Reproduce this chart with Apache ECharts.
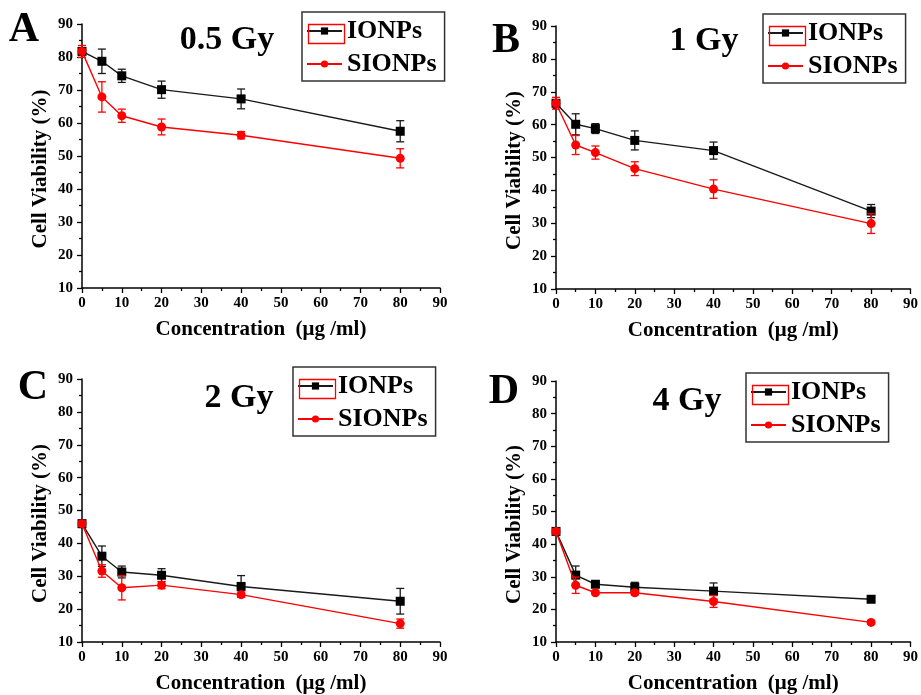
<!DOCTYPE html>
<html>
<head>
<meta charset="utf-8">
<script src="https://cdn.jsdelivr.net/npm/echarts@6/dist/echarts.min.js"></script>
<style>
  html, body { margin: 0; padding: 0; background: #fff; }
  #chart { width: 921px; height: 695px; }
</style>
</head>
<body>
<div id="chart"></div>
<script>
// x values (µg/ml), shared by all panels
const concentrations = [0, 5, 10, 20, 40, 80];
const doseLabels = ['0.5 Gy', '1 Gy', '2 Gy', '4 Gy'];
const panelLetters = ['A', 'B', 'C', 'D'];
const yTicks = [10, 20, 30, 40, 50, 60, 70, 80, 90];
const xTicks = [0, 10, 20, 30, 40, 50, 60, 70, 80, 90];

// cell viability (%), with error bar half-heights
const ionps05 = [81.7, 78.7, 74.3, 70.1, 67.3, 57.5];
const ionps05Err = [1.0, 3.7, 2.0, 2.6, 3.0, 3.2];
const sionps05 = [81.7, 67.9, 62.2, 58.8, 56.3, 49.3];
const sionps05Err = [1.8, 4.6, 2.0, 2.4, 1.1, 2.9];

const ionps1 = [66.5, 60.1, 58.8, 55.2, 52.1, 33.7];
const ionps1Err = [1.0, 3.2, 1.5, 2.9, 2.6, 2.0];
const sionps1 = [66.5, 53.8, 51.5, 46.6, 40.4, 29.9];
const sionps1Err = [1.8, 2.9, 2.0, 2.1, 2.8, 3.0];

const ionps2 = [46.0, 36.1, 31.3, 30.3, 26.9, 22.4];
const ionps2Err = [0.8, 3.1, 1.8, 2.0, 3.3, 3.9];
const sionps2 = [46.0, 31.6, 26.5, 27.3, 24.4, 15.6];
const sionps2Err = [0.8, 1.9, 3.7, 1.1, 0.8, 1.4];

const ionps4 = [43.9, 30.5, 27.7, 26.8, 25.6, 23.1];
const ionps4Err = [0.8, 2.8, 0.8, 1.5, 2.5, 0.5];
const sionps4 = [43.9, 27.4, 25.1, 25.1, 22.4, 16.0];
const sionps4Err = [0.8, 2.5, 0.5, 0.7, 1.8, 0.5];

const ionpsSets = [ionps05, ionps1, ionps2, ionps4];
const ionpsErrSets = [ionps05Err, ionps1Err, ionps2Err, ionps4Err];
const sionpsSets = [sionps05, sionps1, sionps2, sionps4];
const sionpsErrSets = [sionps05Err, sionps1Err, sionps2Err, sionps4Err];

const FONT = '"Liberation Serif", "Times New Roman", serif';
const BLACK = '#1a1a1a';
const RED = '#ff0000';

// panel layout: grid rectangles, legend box, title and letter spots
const panels = [
  { grid: { left: 82, top: 24, width: 358, height: 264 }, legend: [302, 12], dose: [227, 40], letter: [24, 30] },
  { grid: { left: 556, top: 26, width: 357, height: 263 }, legend: [763, 14], dose: [704, 41], letter: [506, 41] },
  { grid: { left: 82, top: 379, width: 358, height: 264 }, legend: [293, 367], dose: [239, 398], letter: [33, 388] },
  { grid: { left: 556, top: 381, width: 357, height: 263 }, legend: [746, 373], dose: [687, 401], letter: [504, 392] }
];

function errorBarRenderer(color) {
  return function (params, api) {
    const x = api.value(0);
    const y = api.value(1);
    const e = api.value(2);
    const top = api.coord([x, y + e]);
    const bot = api.coord([x, y - e]);
    const cap = 4;
    const style = { stroke: color, lineWidth: 1.3 };
    return {
      type: 'group',
      children: [
        { type: 'line', shape: { x1: top[0], y1: top[1], x2: bot[0], y2: bot[1] }, style },
        { type: 'line', shape: { x1: top[0] - cap, y1: top[1], x2: top[0] + cap, y2: top[1] }, style },
        { type: 'line', shape: { x1: bot[0] - cap, y1: bot[1], x2: bot[0] + cap, y2: bot[1] }, style }
      ]
    };
  };
}

const axisLabelStyle = { color: '#000', fontFamily: FONT, fontWeight: 'bold', fontSize: 15 };
const axisLineStyle = { lineStyle: { color: '#000', width: 1.5 } };

const grids = [];
const xAxes = [];
const yAxes = [];
const legends = [];
const series = [];
const graphics = [];

panels.forEach((p, i) => {
  grids.push(p.grid);
  xAxes.push({
    gridIndex: i,
    type: 'value',
    min: xTicks[0],
    max: xTicks[xTicks.length - 1],
    interval: 10,
    name: 'Concentration  (\u03bcg /ml)',
    nameLocation: 'middle',
    nameGap: 31,
    nameTextStyle: { color: '#000', fontFamily: FONT, fontWeight: 'bold', fontSize: 21 },
    axisLine: axisLineStyle,
    axisTick: { show: true, length: 5, lineStyle: { color: '#000', width: 1.3 } },
    minorTick: { show: true, splitNumber: 2, length: 3, lineStyle: { color: '#000', width: 1.3 } },
    axisLabel: Object.assign({ margin: 8 }, axisLabelStyle),
    splitLine: { show: false }
  });
  yAxes.push({
    gridIndex: i,
    type: 'value',
    min: yTicks[0],
    max: yTicks[yTicks.length - 1],
    interval: 10,
    name: 'Cell Viability (%)',
    nameLocation: 'middle',
    nameGap: 31,
    nameTextStyle: {
      color: '#000', fontFamily: FONT, fontWeight: 'bold', fontSize: 21,
      padding: [0, 26, 0, 0]
    },
    axisLine: axisLineStyle,
    axisTick: { show: true, length: 5, lineStyle: { color: '#000', width: 1.3 } },
    minorTick: { show: true, splitNumber: 2, length: 3, lineStyle: { color: '#000', width: 1.3 } },
    axisLabel: Object.assign({ margin: 9 }, axisLabelStyle),
    splitLine: { show: false }
  });

  const ion = ionpsSets[i];
  const ionErr = ionpsErrSets[i];
  const sion = sionpsSets[i];
  const sionErr = sionpsErrSets[i];

  series.push({
    type: 'custom',
    name: 'IONPs err ' + i,
    xAxisIndex: i,
    yAxisIndex: i,
    renderItem: errorBarRenderer(BLACK),
    data: concentrations.map((c, k) => [c, ion[k], ionErr[k]]),
    encode: { x: 0, y: 1 },
    silent: true,
    z: 3
  });
  series.push({
    type: 'line',
    name: 'IONPs',
    xAxisIndex: i,
    yAxisIndex: i,
    data: concentrations.map((c, k) => [c, ion[k]]),
    symbol: 'rect',
    symbolSize: 9,
    itemStyle: { color: '#000' },
    lineStyle: { color: BLACK, width: 1.4 },
    z: 3
  });
  series.push({
    type: 'custom',
    name: 'SIONPs err ' + i,
    xAxisIndex: i,
    yAxisIndex: i,
    renderItem: errorBarRenderer(RED),
    data: concentrations.map((c, k) => [c, sion[k], sionErr[k]]),
    encode: { x: 0, y: 1 },
    silent: true,
    z: 4
  });
  series.push({
    type: 'line',
    name: 'SIONPs',
    xAxisIndex: i,
    yAxisIndex: i,
    data: concentrations.map((c, k) => [c, sion[k]]),
    symbol: 'circle',
    symbolSize: 9,
    itemStyle: { color: RED },
    lineStyle: { color: RED, width: 1.4 },
    z: 4
  });

  legends.push({
    data: ['IONPs', 'SIONPs'],
    orient: 'vertical',
    left: p.legend[0],
    top: p.legend[1],
    padding: [5, 8, 3, 4],
    itemGap: 5,
    itemWidth: 35,
    itemHeight: 9,
    borderColor: '#333',
    borderWidth: 1.5,
    selectedMode: false,
    textStyle: { color: '#000', fontFamily: FONT, fontWeight: 'bold', fontSize: 26, lineHeight: 28 }
  });

  // red frame around the IONPs legend mark, as in the original figure
  graphics.push({
    type: 'rect',
    left: p.legend[0] + 4,
    top: p.legend[1] + 10,
    shape: { width: 36, height: 19 },
    style: { fill: 'none', stroke: RED, lineWidth: 1.3 },
    z: 100
  });
  graphics.push({
    type: 'text',
    x: p.dose[0],
    y: p.dose[1],
    style: {
      text: doseLabels[i],
      fill: '#000',
      font: 'bold 34px ' + FONT,
      textAlign: 'center',
      textVerticalAlign: 'middle'
    }
  });
  graphics.push({
    type: 'text',
    x: p.letter[0],
    y: p.letter[1],
    style: {
      text: panelLetters[i],
      fill: '#000',
      font: 'bold 42px ' + FONT,
      textAlign: 'center',
      textVerticalAlign: 'middle'
    }
  });
});

const chart = echarts.init(document.getElementById('chart'));
chart.setOption({
  backgroundColor: '#fff',
  animation: false,
  grid: grids,
  xAxis: xAxes,
  yAxis: yAxes,
  legend: legends,
  series: series,
  graphic: graphics
});
</script>
</body>
</html>
